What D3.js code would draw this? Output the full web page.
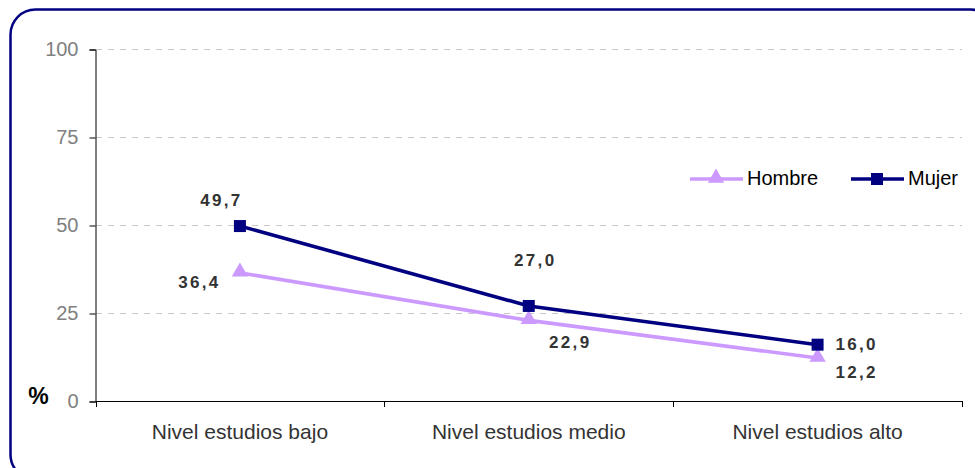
<!DOCTYPE html>
<html><head><meta charset="utf-8">
<script src="https://cdn.jsdelivr.net/npm/d3@7"></script>
<style>body{margin:0;background:#fff}svg{display:block}svg text{font-family:'Liberation Sans',Arial,sans-serif}</style>
</head><body>
<script>
const categories = ["Nivel estudios bajo", "Nivel estudios medio", "Nivel estudios alto"];
const hombre = [36.4, 22.9, 12.2];
const mujer = [49.7, 27.0, 16.0];
const yTicks = [0, 25, 50, 75, 100];
const seriesNames = ["Hombre", "Mujer"];

const W = 975, H = 468;
const FF = "'Liberation Sans', Arial, sans-serif";
const svg = d3.select("body").append("svg").attr("width", W).attr("height", H);
svg.append("rect").attr("x", 10.5).attr("y", 9.5).attr("width", 985).attr("height", 470)
  .attr("rx", 25).attr("fill", "#fff").attr("stroke", "#000080").attr("stroke-width", 2.5);

const x = d3.scaleBand().domain(categories).range([95.5, 962]).padding(0);
const y = d3.scaleLinear().domain([0, 100]).range([401, 49]);

// gridlines
svg.append("g").selectAll("line").data(yTicks.filter(d => d > 0)).join("line")
  .attr("x1", 96).attr("x2", 962).attr("y1", d => Math.round(y(d)) + 0.5).attr("y2", d => Math.round(y(d)) + 0.5)
  .attr("stroke", "#c8c8c8").attr("stroke-dasharray", "6,6");

// y axis
const yAxis = svg.append("g").attr("transform", "translate(95.5,0.5)")
  .call(d3.axisLeft(y).tickValues(yTicks).tickSize(6).tickPadding(11));
yAxis.attr("font-size", 20).attr("font-family", FF);
yAxis.select(".domain").attr("stroke", "#000");
yAxis.selectAll(".tick line").attr("stroke", "#000");
yAxis.selectAll("text").attr("fill", "#808080").attr("dy", "0.28em");

// x axis
const xAxis = svg.append("g").attr("transform", "translate(0,401.5)")
  .call(d3.axisBottom(x).tickSize(0).tickPadding(23));
xAxis.attr("font-size", 21).attr("font-family", FF);
xAxis.select(".domain").attr("stroke", "#000").attr("d", "M95.5,0H962");
xAxis.selectAll("text").attr("fill", "#333");
const bounds = [x(categories[0])].concat(categories.map(c => x(c) + x.bandwidth()));
svg.append("g").selectAll("line").data(bounds).join("line")
  .attr("x1", d => Math.round(d) + 0.5).attr("x2", d => Math.round(d) + 0.5).attr("y1", 401).attr("y2", 407)
  .attr("stroke", "#000");

svg.append("text").attr("x", 38.5).attr("y", 404).attr("text-anchor", "middle")
  .attr("font-family", FF).attr("font-size", 23).attr("font-weight", "bold")
  .text("%");

const cx = c => x(c) + x.bandwidth() / 2;
const line = d3.line().x((d, i) => cx(categories[i])).y(d => y(d));

const colH = "#CC99FF", colM = "#000080";
svg.append("path").datum(hombre).attr("d", line).attr("fill", "none").attr("stroke", colH).attr("stroke-width", 3.6);
svg.append("path").datum(mujer).attr("d", line).attr("fill", "none").attr("stroke", colM).attr("stroke-width", 3.6);

const tri = d3.symbol().type(d3.symbolTriangle).size(115);
const SQ = 12;
svg.append("g").selectAll("path").data(hombre).join("path")
  .attr("d", tri).attr("transform", (d, i) => `translate(${cx(categories[i])},${y(d) - 1})`).attr("fill", colH);
svg.append("g").selectAll("rect").data(mujer).join("rect")
  .attr("x", (d, i) => cx(categories[i]) - SQ / 2).attr("y", d => y(d) - SQ / 2).attr("width", SQ).attr("height", SQ).attr("fill", colM);

// data labels
const fmt = v => v.toFixed(1).replace(".", ",");
const lblStyle = s => s.attr("font-family", FF).attr("font-size", 17)
  .attr("font-weight", "bold").attr("letter-spacing", "2.3px").attr("fill", "#333");
// [dx, dy, anchor]
const mOff = [[-19.5, -20, "middle"], [5.5, -40, "middle"], [18, 5, "start"]];
const hOff = [[-41.5, 15, "middle"], [40.5, 28, "middle"], [18, 20, "start"]];
svg.append("g").selectAll("text").data(mujer).join("text").call(lblStyle)
  .attr("text-anchor", (d, i) => mOff[i][2])
  .attr("x", (d, i) => cx(categories[i]) + mOff[i][0] + (mOff[i][2] === "middle" ? 1 : 0)).attr("y", (d, i) => y(d) + mOff[i][1])
  .text(fmt);
svg.append("g").selectAll("text").data(hombre).join("text").call(lblStyle)
  .attr("text-anchor", (d, i) => hOff[i][2])
  .attr("x", (d, i) => cx(categories[i]) + hOff[i][0] + (hOff[i][2] === "middle" ? 1 : 0)).attr("y", (d, i) => y(d) + hOff[i][1])
  .text(fmt);

// legend
const leg = [{name: seriesNames[0], col: colH, x: 690, type: "tri"}, {name: seriesNames[1], col: colM, x: 851, type: "sq"}];
const lg = svg.append("g");
leg.forEach(l => {
  lg.append("line").attr("x1", l.x).attr("x2", l.x + 53).attr("y1", 179).attr("y2", 179).attr("stroke", l.col).attr("stroke-width", 3.6);
  if (l.type === "tri") lg.append("path").attr("d", tri).attr("transform", `translate(${l.x + 26},178)`).attr("fill", l.col);
  else lg.append("rect").attr("x", l.x + 26 - SQ / 2).attr("y", 179 - SQ / 2).attr("width", SQ).attr("height", SQ).attr("fill", l.col);
  lg.append("text").attr("x", l.x + 57).attr("y", 185).text(l.name)
    .attr("font-family", FF).attr("font-size", 20).attr("fill", "#000");
});
</script>
</body></html>
